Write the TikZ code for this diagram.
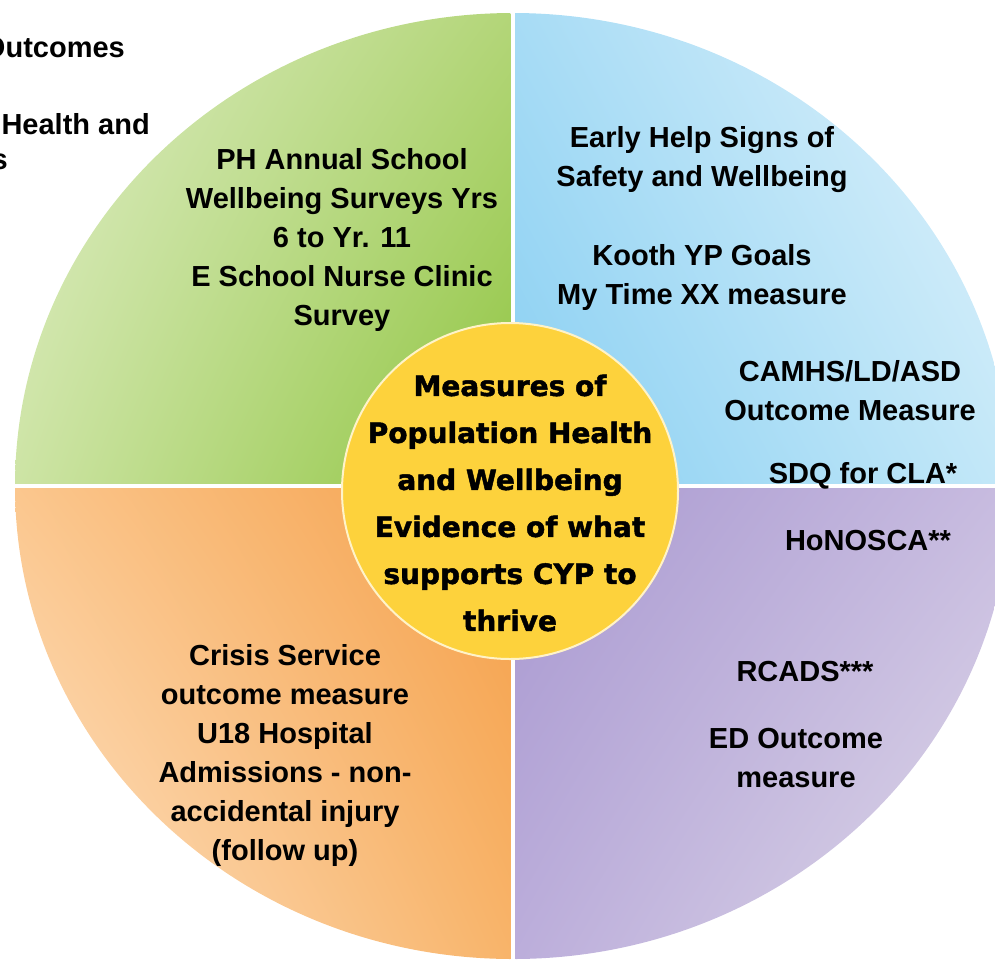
\documentclass[tikz,border=0pt]{standalone}
\usepackage{fontspec}
\usetikzlibrary{shadings}
\setmainfont{Liberation Sans}
\newfontfamily\centerfont[BoldFeatures={FakeBold=1.6}]{DejaVu Sans}
\definecolor{gUL}{RGB}{226,239,204}\definecolor{gUR}{RGB}{180,214,122}
\definecolor{gLL}{RGB}{207,229,168}\definecolor{gLR}{RGB}{143,197,64}
\definecolor{bUL}{RGB}{168,220,245}\definecolor{bUR}{RGB}{228,244,252}
\definecolor{bLL}{RGB}{136,207,242}\definecolor{bLR}{RGB}{196,232,248}
\definecolor{oUL}{RGB}{251,200,144}\definecolor{oUR}{RGB}{245,160,74}
\definecolor{oLL}{RGB}{253,230,204}\definecolor{oLR}{RGB}{248,180,106}
\definecolor{pUL}{RGB}{168,152,208}\definecolor{pUR}{RGB}{200,188,224}
\definecolor{pLL}{RGB}{188,174,219}\definecolor{pLR}{RGB}{224,219,233}
\definecolor{hubfill}{RGB}{253,210,60}\definecolor{hubedge}{RGB}{255,243,200}
\begin{document}
\begin{tikzpicture}[x=1pt,y=-1pt,
  qtext/.style={font=\bfseries\fontsize{29}{39}\selectfont, align=center, text=black, inner sep=0pt},
  ctext/.style={font=\centerfont\bfseries\fontsize{28}{47}\selectfont, align=center, text=black, inner sep=0pt}]
\useasboundingbox (0,0) rectangle (995,962);
\clip (0,0) rectangle (995,962);
\def\cx{513}\def\cy{486}\def\gp{2.7}
% green quadrant
\begin{scope}
  \clip (\cx,\cy) ellipse [x radius=498, y radius=473];
  \shade[upper left=gUL, upper right=gUR, lower left=gLL, lower right=gLR]
    (0,0) rectangle (\cx-\gp,\cy-\gp);
\end{scope}
% blue quadrant
\begin{scope}
  \clip (\cx,\cy) ellipse [x radius=498, y radius=473];
  \shade[upper left=bUL, upper right=bUR, lower left=bLL, lower right=bLR]
    (\cx+\gp,0) rectangle (1012,\cy-\gp);
\end{scope}
% orange quadrant
\begin{scope}
  \clip (\cx,\cy) ellipse [x radius=498, y radius=473];
  \shade[upper left=oUL, upper right=oUR, lower left=oLL, lower right=oLR]
    (0,\cy+\gp) rectangle (\cx-\gp,962);
\end{scope}
% purple quadrant
\begin{scope}
  \clip (\cx,\cy) ellipse [x radius=498, y radius=473];
  \shade[upper left=pUL, upper right=pUR, lower left=pLL, lower right=pLR]
    (\cx+\gp,\cy+\gp) rectangle (1012,962);
\end{scope}
% hub
\node[circle, fill=hubfill, draw=hubedge, line width=2pt, minimum size=336pt, inner sep=0pt] (hub) at (510,491) {};
\node[ctext] (hubtext) at (510,503) {Measures of\\Population Health\\and Wellbeing\\Evidence of what\\supports CYP to\\thrive};
% cut-off text at top left
\node[qtext, anchor=east] (cut1) at (125,48) {Outcomes};
\node[qtext, anchor=east] (cut2) at (150,124) {Health and};
\node[qtext, anchor=east] (cut3) at (8,162) {s};
% green text
\node[qtext] (tl) at (342,240) {PH Annual School\\Wellbeing Surveys Yrs\\6 to Yr. 11\\E School Nurse Clinic\\Survey};
% blue text
\node[qtext] (tr1) at (702,160) {Early Help Signs of\\Safety and Wellbeing};
\node[qtext] (tr2) at (702,277) {Kooth YP Goals\\My Time XX measure};
\node[qtext] (tr3) at (850,391) {CAMHS/LD/ASD\\Outcome Measure};
\node[qtext] (tr4) at (863,476) {SDQ for CLA*};
% purple text
\node[qtext] (br1) at (868,541) {HoNOSCA**};
\node[qtext] (br2) at (805,672) {RCADS***};
\node[qtext] (br3) at (796,758) {ED Outcome\\measure};
% orange text
\node[qtext] (bl) at (285,755) {Crisis Service\\outcome measure\\U18 Hospital\\Admissions - non-\\accidental injury\\(follow up)};
\end{tikzpicture}
\end{document}
